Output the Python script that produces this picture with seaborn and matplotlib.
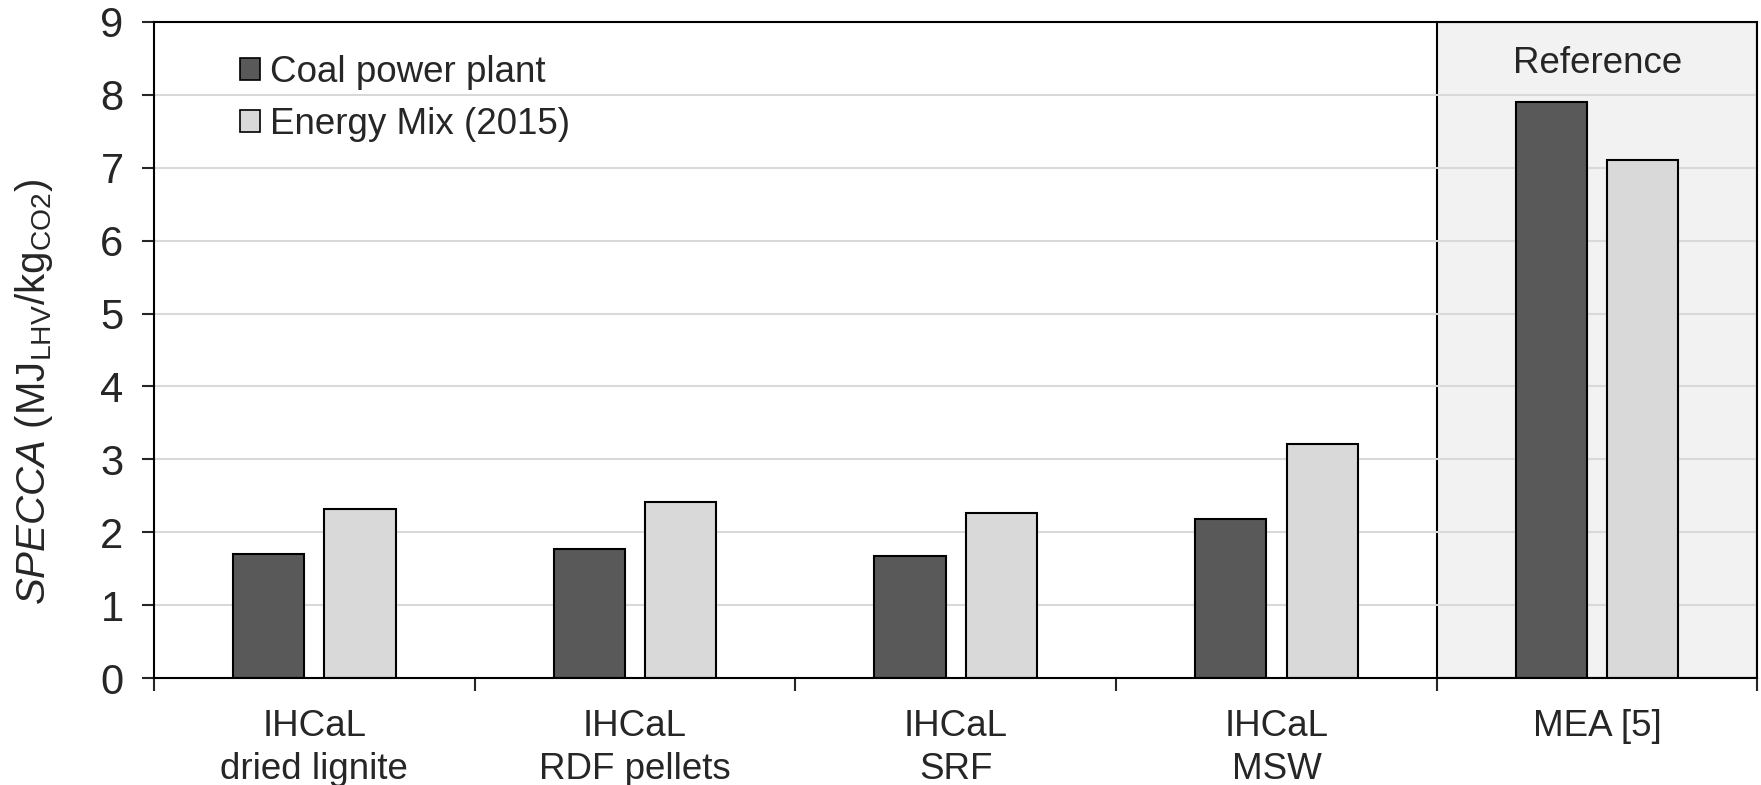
import numpy as np
import pandas as pd
import matplotlib
matplotlib.use('Agg')
import matplotlib.pyplot as plt
import seaborn as sns
from matplotlib.patches import Patch

# Data
categories = ['IHCaL\ndried lignite', 'IHCaL\nRDF pellets', 'IHCaL\nSRF',
              'IHCaL\nMSW', 'MEA [5]']
series = ['Coal power plant', 'Energy Mix (2015)']
coal = [1.70, 1.77, 1.68, 2.18, 7.90]
energy_mix = [2.32, 2.42, 2.27, 3.21, 7.10]
colors = ['#595959', '#d9d9d9']

df = pd.DataFrame({
    'Case': categories * 2,
    'Scenario': [series[0]] * len(coal) + [series[1]] * len(energy_mix),
    'SPECCA': coal + energy_mix,
})

sns.set_style('white')
plt.rcParams['font.family'] = ['Liberation Sans', 'DejaVu Sans']
plt.rcParams['mathtext.fontset'] = 'custom'
plt.rcParams['mathtext.rm'] = 'Liberation Sans'
plt.rcParams['mathtext.it'] = 'Liberation Sans:italic'

fig = plt.figure(figsize=(17.61, 7.85), dpi=100)
ax = fig.add_axes([0.0875, 0.1363, 0.9105, 0.8357])

# Shaded reference block behind last category
ax.axvspan(len(categories) - 1.5, len(categories) - 0.5, facecolor='#f2f2f2',
           edgecolor='black', linewidth=1.5, zorder=0)

sns.barplot(data=df, x='Case', y='SPECCA', hue='Scenario', palette=colors,
            width=0.57, gap=0.22, edgecolor='black', linewidth=1.5,
            legend=False, ax=ax, zorder=2)

ax.set_ylim(0, 9)
ax.set_xlim(-0.5, len(categories) - 0.5)
ax.set_yticks(range(0, 10))
ax.yaxis.grid(True, color='#d9d9d9', linewidth=1.5, zorder=0.5)
ax.set_axisbelow(True)

# Ticks at category boundaries, labels centred without ticks
ax.set_xticks(np.arange(-0.5, len(categories)), minor=True)
ax.tick_params(axis='x', which='major', length=0, labelsize=26.5, pad=22)
ax.tick_params(axis='x', which='minor', length=9, width=1.5,
               direction='out', bottom=True)
ax.tick_params(axis='y', which='major', length=9, width=1.5,
               direction='out', left=True, labelsize=30, pad=13)
for lab in ax.get_xticklabels():
    lab.set_fontsize(26.5)
    lab.set_linespacing(1.3)

for side in ['left', 'right', 'top', 'bottom']:
    ax.spines[side].set_visible(True)
    ax.spines[side].set_color('black')
    ax.spines[side].set_linewidth(1.5)

ax.set_xlabel('')
ax.set_ylabel(r'$\mathit{SPECCA}$ (MJ$_{\mathrm{LHV}}$/kg$_{\mathrm{CO2}}$)',
              fontsize=29)
ax.yaxis.set_label_coords(-0.062, 0.436)

ax.text(len(categories) - 1, 8.30, 'Reference', ha='center', va='baseline',
        fontsize=26.5)

handles = [Patch(facecolor=c, edgecolor='black', linewidth=1.2) for c in colors]
ax.legend(handles, series, loc='upper left', bbox_to_anchor=(0.033, 1.0),
          frameon=False, fontsize=26.5, handlelength=0.55, handleheight=0.55,
          handletextpad=0.25, labelspacing=0.45, borderpad=0.4)

fig.savefig('out.png', dpi=100)
